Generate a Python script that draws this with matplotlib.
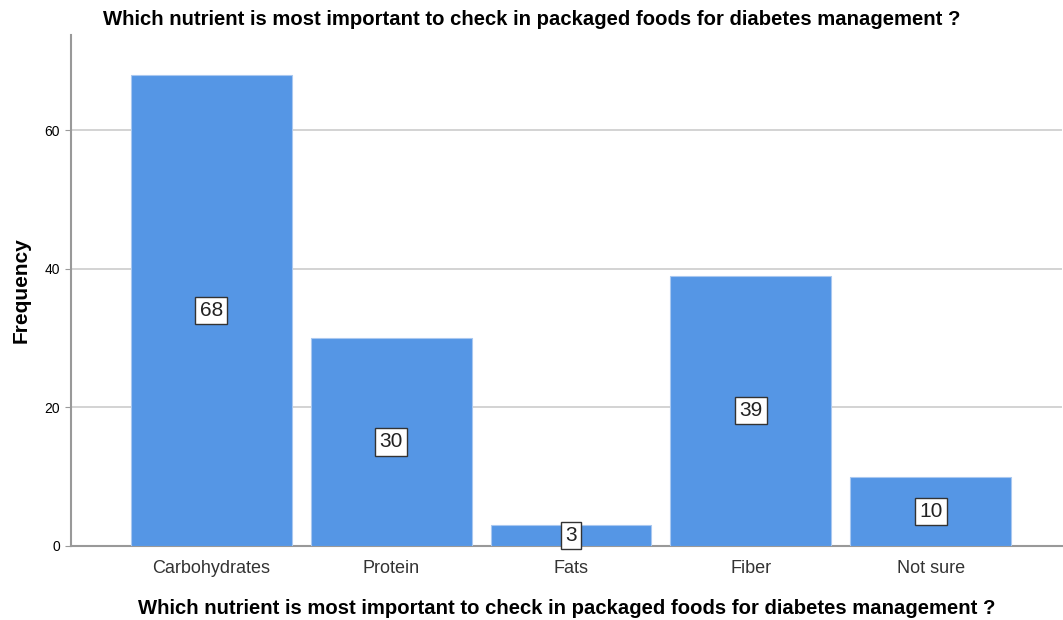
import matplotlib
matplotlib.use("Agg")
from matplotlib import pyplot as plt

categories = ["Carbohydrates", "Protein", "Fats", "Fiber", "Not sure"]
counts = [68, 30, 3, 39, 10]
yticks = [0, 20, 40, 60]
title = "Which nutrient is most important to check in packaged foods for diabetes management ?"

plt.rcParams["font.family"] = ["Liberation Sans", "DejaVu Sans"]

fig = plt.figure(figsize=(10.63, 6.2), dpi=100)
ax = fig.add_axes([0.0668, 0.1194, 0.9322, 0.8241])

x = list(range(len(categories)))
bars = ax.bar(x, counts, width=0.894, color="#5596E5", edgecolor="#A9C8F0",
              linewidth=0.8, zorder=3)

# value box in the middle of each bar
for xi, v in zip(x, counts):
    ax.text(xi, v / 2, str(v), ha="center", va="center", fontsize=15,
            color="#222222", zorder=4,
            bbox=dict(boxstyle="square,pad=0.2", facecolor="white",
                      edgecolor="#333333", linewidth=1))

ax.set_xlim(-0.78, 4.73)
ax.set_ylim(0, 73.7)
ax.set_yticks(yticks)
ax.set_xticks(x)
ax.set_xticklabels(categories, fontsize=13, color="#333333")
ax.tick_params(axis="y", labelsize=10, length=4, color="#999999", pad=4)
ax.tick_params(axis="x", length=0, pad=10)
ax.yaxis.grid(True, color="#CCCCCC", linewidth=1.2, zorder=0)

for side in ["top", "right"]:
    ax.spines[side].set_visible(False)
ax.spines["left"].set_color("#999999")
ax.spines["left"].set_linewidth(1.5)
ax.spines["bottom"].set_color("#999999")
ax.spines["bottom"].set_linewidth(1.5)

ax.set_ylabel("Frequency", fontsize=15, fontweight="bold", labelpad=10)
ax.set_xlabel(title, fontsize=14.6, fontweight="bold", labelpad=16)
fig.text(0.5, 0.968, title, ha="center", va="center", fontsize=14.6,
         fontweight="bold")

fig.savefig("out.png", dpi=100)
